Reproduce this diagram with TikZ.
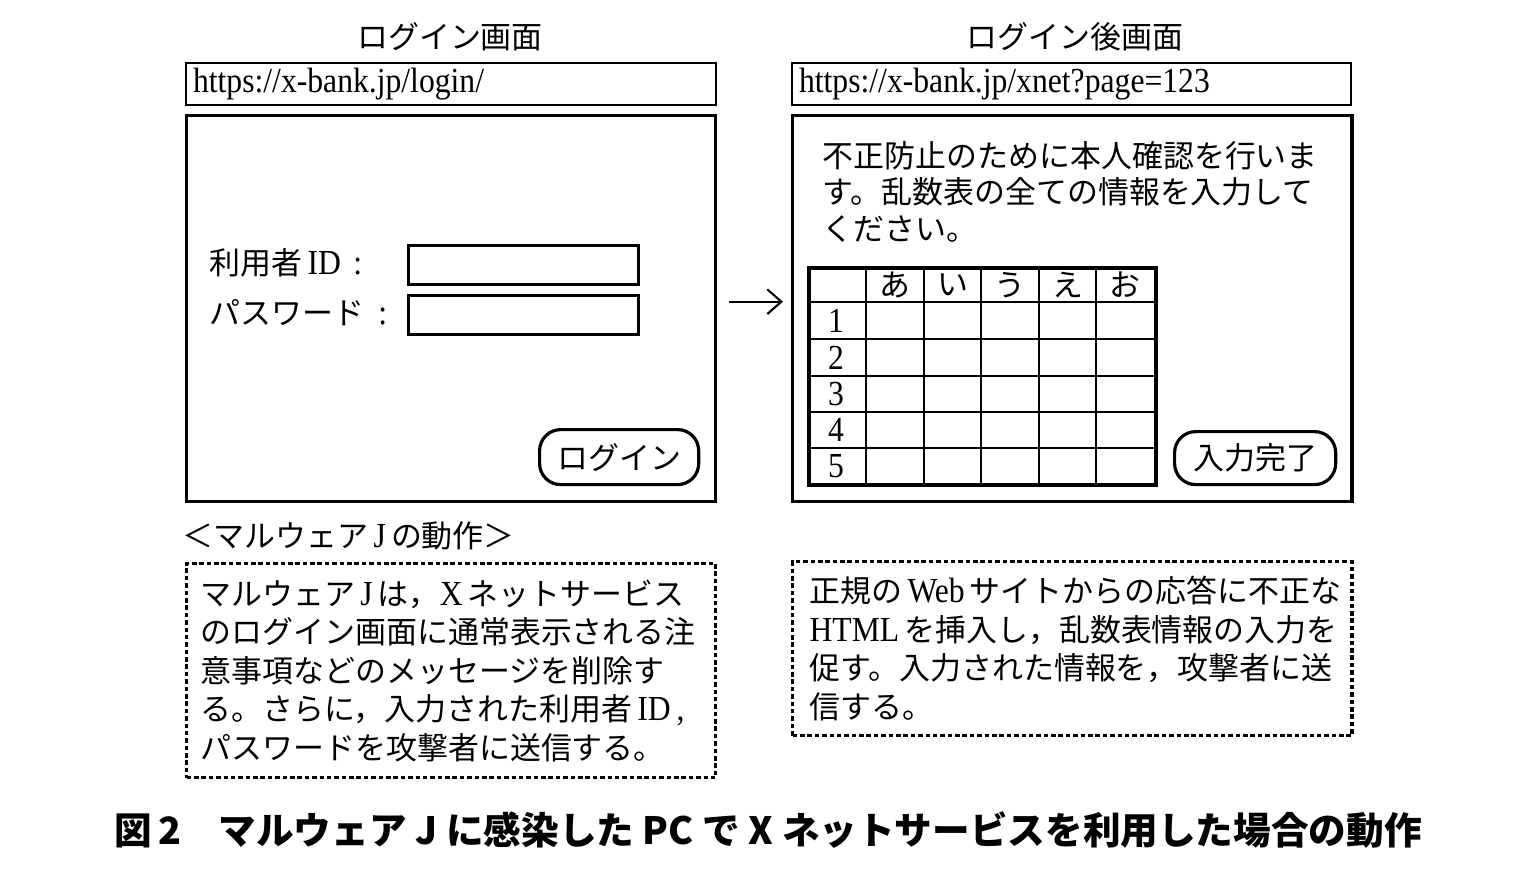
\documentclass[tikz,border=0pt]{standalone}
\usepackage{fontspec}
\setmainfont{Noto Sans CJK JP}
\newfontfamily\lat[FakeStretch=0.9]{Liberation Serif}
\usetikzlibrary{arrows.meta,positioning}

\newcommand{\en}[1]{{\lat\fontsize{10pt}{10.9pt}\selectfont #1}}

\begin{document}
\begin{tikzpicture}[
    x=0.01cm, y=-0.01cm,
    jtext/.style={font=\fontsize{8.8pt}{10.9pt}\selectfont, inner sep=0pt},
    heading/.style={jtext},
    urlbar/.style={draw, line width=0.6pt, anchor=north west, inner xsep=0.07cm, inner ysep=0pt, minimum height=0.42cm, align=left, font=\lat\fontsize{10pt}{12pt}\selectfont},
    screen/.style={draw, line width=0.9pt, anchor=north west, inner sep=0pt},
    field/.style={draw, line width=0.9pt, anchor=north west, minimum width=2.30cm, minimum height=0.39cm, inner sep=0pt},
    btn/.style={draw, line width=0.9pt, rounded corners=6pt, anchor=north west, inner sep=0pt, font=\fontsize{8.8pt}{10.9pt}\selectfont},
    note/.style={draw, line width=0.9pt, dash pattern=on 1.3pt off 0.8pt, anchor=north west, inner ysep=0pt, align=left, font=\fontsize{8.8pt}{10.95pt}\selectfont},
    grid/.style={line width=0.6pt},
    flow/.style={line width=0.6pt, -{Straight Barb[length=4pt,width=7pt]}},
    figcap/.style={font=\bfseries\fontsize{10.7pt}{13pt}\selectfont, inner sep=0pt}
]
\useasboundingbox (0,0) rectangle (1530,884);

% Screen titles
\node[heading] (logintitle) at (450,37) {ログイン画面};
\node[heading] (aftertitle) at (1075,37) {ログイン後画面};

% URL bars
\node[urlbar, text width=5.16cm] (loginurl) at (185,62) {https://x-bank.jp/login/};
\node[urlbar, text width=5.45cm] (afterurl) at (791,62) {https://x-bank.jp/xnet?page=123};

% Login screen
\node[screen, minimum width=5.29cm, minimum height=3.86cm] (loginscr) at (185,114) {};
\node[jtext, anchor=west] (idlabel) at (209,263) {利用者\,\en{ID\hspace{0.35em}:}};
\node[jtext, anchor=west] (pwlabel) at (209,313) {パスワード\hspace{0.45em}\en{:}};
\node[field] (idfield) at (407,244) {};
\node[field] (pwfield) at (407,294) {};
\node[btn, minimum width=1.59cm, minimum height=0.55cm] (loginbtn) at (538,428) {ログイン};

% Screen after login
\node[screen, minimum width=5.59cm, minimum height=3.86cm] (afterscr) at (791,114) {};
\node[jtext, anchor=north west, align=left, font=\fontsize{8.8pt}{10.3pt}\selectfont] (msg) at (822,141) {不正防止のために本人確認を行いま\\す。乱数表の全ての情報を入力して\\ください。};
\node[draw, line width=1.1pt, anchor=north west, minimum width=3.47cm, minimum height=2.17cm, inner sep=0pt] (table) at (807,266) {};
\foreach \x in {866,924,981,1039,1096}
    \draw[grid] (\x,266) -- (\x,483);
\foreach \y in {302,339,376,412,448}
    \draw[grid] (807,\y) -- (1154,\y);
\foreach \k/\x in {あ/895,い/953,う/1010,え/1068,お/1125}
    \node[jtext] (head\x) at (\x,285) {\k};
\foreach \r/\y in {1/321,2/358,3/394,4/430,5/466}
    \node[jtext, font=\lat\fontsize{10pt}{12pt}\selectfont] (row\r) at (836,\y) {\r};
\node[btn, minimum width=1.61cm, minimum height=0.53cm] (donebtn) at (1173,430) {入力完了};

% Transition
\draw[flow, shorten <=0.12cm, shorten >=0.08cm] ([yshift=0.07cm]loginscr.east) -- ([yshift=0.07cm]afterscr.west);

% Malware behaviour
\node[jtext, anchor=west] (notetitle) at (182,536) {＜マルウェア\,\en{J}\,の動作＞};
\node[note, text width=5.01cm, minimum height=2.14cm, inner xsep=0.14cm] (leftnote) at (185,562) {マルウェア\,\en{J}\,は，\en{X}\,ネットサービス\\のログイン画面に通常表示される注\\意事項などのメッセージを削除す\\る。さらに，入力された利用者\,\en{ID\,,}\\パスワードを攻撃者に送信する。};
\node[note, text width=5.25cm, minimum height=1.74cm, inner xsep=0.17cm] (rightnote) at (791,560) {正規の\,\en{Web}\,サイトからの応答に不正な\\\en{HTML}\,を挿入し，乱数表情報の入力を\\促す。入力された情報を，攻撃者に送\\信する。};

% Figure caption
\node[figcap] (caption) at (768,830) {図\,2\quad マルウェア J に感染した PC で X ネットサービスを利用した場合の動作};

\end{tikzpicture}
\end{document}
